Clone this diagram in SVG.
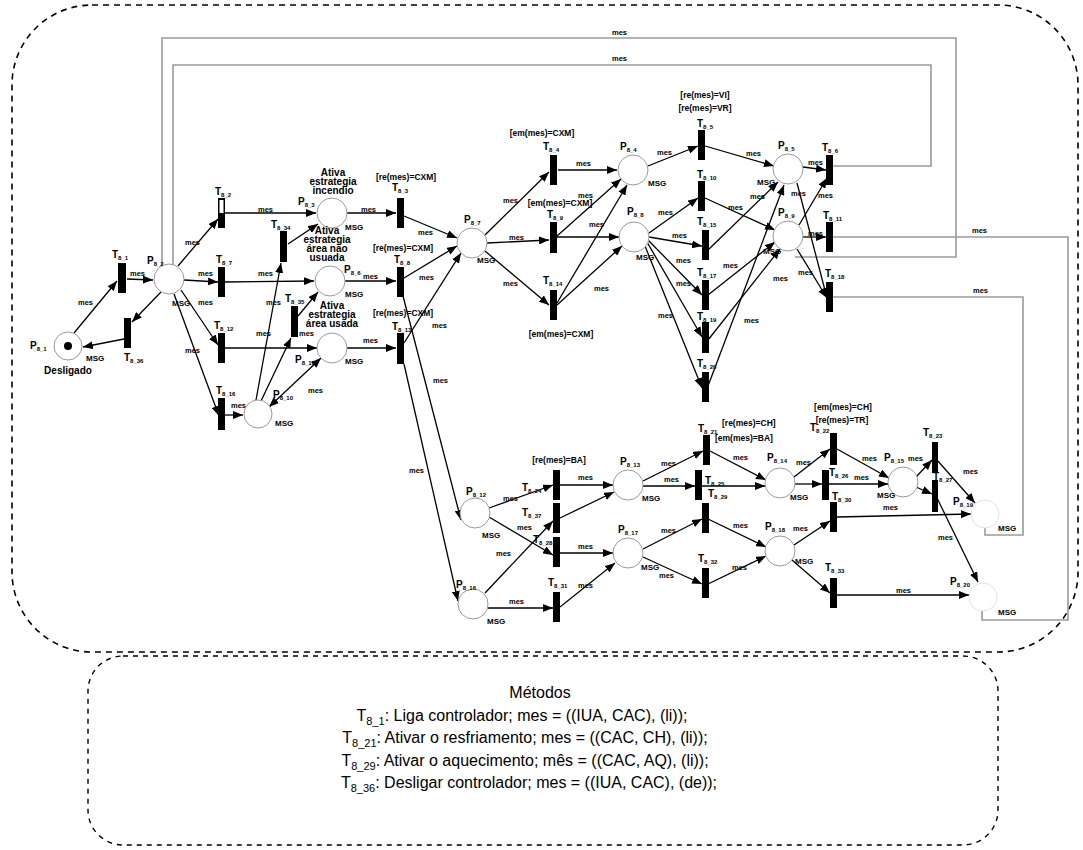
<svg xmlns="http://www.w3.org/2000/svg" width="1083" height="850" viewBox="0 0 1083 850">
<defs>
<marker id="ah" viewBox="0 0 10 8" refX="10" refY="4" markerWidth="10" markerHeight="8" markerUnits="userSpaceOnUse" orient="auto-start-reverse"><path d="M0,0 L10,4 L0,8 z" fill="#000"/></marker>
</defs>
<style>
.arc{stroke:#000;stroke-width:1.3;fill:none;marker-end:url(#ah)}
.dbl{marker-start:url(#ah)}
.loop{stroke:#9a9a9a;stroke-width:1.6;fill:none}
.pl{fill:#fff;stroke:#9a9a9a;stroke-width:1}
.pf{fill:#fff;stroke:#e2e2e2;stroke-width:1}
.tr{fill:#000}
.t{font-family:"Liberation Sans",Arial,sans-serif;font-weight:bold;fill:#000}
.m{font-size:7.5px}
.g{font-size:8.5px}
.n{font-size:10px}
.s{font-size:6px}
.ms{font-size:8px}
.ti{font-size:10px;text-anchor:middle}
.c{text-anchor:middle}
.meth{font-family:"Liberation Sans",Arial,sans-serif;font-size:16px;fill:#000;text-anchor:middle}
.sb{font-size:11px}
.bd{fill:none;stroke:#000;stroke-width:1.6;stroke-dasharray:6 5}
.bd2{fill:none;stroke:#000;stroke-width:1.4;stroke-dasharray:5 5}
</style>
<rect width="1083" height="850" fill="#fff"/>
<rect class="bd" x="12" y="5" width="1066" height="647" rx="80" ry="80"/>
<rect class="bd2" x="88" y="656" width="910" height="189" rx="35" ry="35"/>

<g id="connectors">
<path class="loop" d="M833,166 H931 V65 H173 V265"/>
<path class="loop" d="M795,257 H956 V38 H162 V266"/>
<path class="loop" d="M833,237 H1068 V620 H982 V611"/>
<path class="loop" d="M833,297 H1023 V535 H985 V528"/>
<line class="arc" x1="74" y1="333" x2="117" y2="281"/>
<line class="arc" x1="127" y1="279" x2="153" y2="280"/>
<line class="arc" x1="161" y1="292" x2="132" y2="322"/>
<line class="arc" x1="124" y1="339" x2="83" y2="347"/>
<line class="arc" x1="178" y1="266" x2="218" y2="219"/>
<line class="arc" x1="184" y1="280" x2="218" y2="282"/>
<line class="arc" x1="181" y1="290" x2="218" y2="345"/>
<line class="arc" x1="174" y1="294" x2="219" y2="416"/>
<line class="arc" x1="225" y1="213" x2="316" y2="213"/>
<line class="arc" x1="225" y1="282" x2="314" y2="281"/>
<line class="arc" x1="225" y1="348" x2="317" y2="348"/>
<line class="arc" x1="225" y1="415" x2="243" y2="415"/>
<line class="arc" x1="256" y1="400" x2="281" y2="263"/>
<line class="arc" x1="261" y1="401" x2="291" y2="338"/>
<line class="arc" x1="288" y1="244" x2="318" y2="224"/>
<line class="arc" x1="298" y1="316" x2="318" y2="292"/>
<line class="arc dbl" x1="321" y1="358" x2="269" y2="407"/>
<line class="arc" x1="347" y1="213" x2="396" y2="213"/>
<line class="arc" x1="345" y1="281" x2="396" y2="281"/>
<line class="arc" x1="347" y1="348" x2="396" y2="348"/>
<line class="arc" x1="404" y1="216" x2="457" y2="238"/>
<line class="arc" x1="404" y1="278" x2="457" y2="246"/>
<line class="arc" x1="404" y1="343" x2="461" y2="253"/>
<line class="arc" x1="403" y1="296" x2="461" y2="520"/>
<line class="arc" x1="404" y1="364" x2="458" y2="601"/>
<line class="arc" x1="485" y1="235" x2="549" y2="172"/>
<line class="arc" x1="487" y1="243" x2="549" y2="240"/>
<line class="arc" x1="485" y1="251" x2="549" y2="305"/>
<line class="arc" x1="558" y1="170" x2="617" y2="170"/>
<line class="arc" x1="557" y1="236" x2="621" y2="179"/>
<line class="arc" x1="557" y1="237" x2="619" y2="237"/>
<line class="arc" x1="557" y1="303" x2="627" y2="185"/>
<line class="arc" x1="557" y1="305" x2="622" y2="246"/>
<line class="arc" x1="648" y1="166" x2="698" y2="146"/>
<line class="arc" x1="705" y1="146" x2="774" y2="166"/>
<line class="arc" x1="649" y1="233" x2="698" y2="198"/>
<line class="arc" x1="649" y1="237" x2="702" y2="246"/>
<line class="arc" x1="648" y1="240" x2="702" y2="295"/>
<line class="arc" x1="647" y1="242" x2="702" y2="337"/>
<line class="arc" x1="645" y1="246" x2="702" y2="388"/>
<line class="arc" x1="705" y1="198" x2="775" y2="230"/>
<line class="arc" x1="708" y1="250" x2="778" y2="182"/>
<line class="arc" x1="708" y1="295" x2="775" y2="242"/>
<line class="arc" x1="708" y1="340" x2="780" y2="249"/>
<line class="arc" x1="708" y1="386" x2="784" y2="185"/>
<line class="arc" x1="803" y1="167" x2="826" y2="170"/>
<line class="arc" x1="799" y1="225" x2="827" y2="178"/>
<line class="arc" x1="803" y1="237" x2="826" y2="237"/>
<line class="arc" x1="797" y1="183" x2="827" y2="298"/>
<line class="arc" x1="797" y1="249" x2="827" y2="298"/>
<line class="arc" x1="489" y1="508" x2="553" y2="485"/>
<line class="arc" x1="489" y1="517" x2="553" y2="555"/>
<line class="arc" x1="485" y1="593" x2="553" y2="521"/>
<line class="arc" x1="488" y1="608" x2="553" y2="608"/>
<line class="arc" x1="560" y1="485" x2="613" y2="485"/>
<line class="arc" x1="560" y1="518" x2="614" y2="492"/>
<line class="arc" x1="560" y1="553" x2="613" y2="553"/>
<line class="arc" x1="560" y1="607" x2="615" y2="563"/>
<line class="arc" x1="643" y1="481" x2="703" y2="451"/>
<line class="arc" x1="643" y1="486" x2="695" y2="486"/>
<line class="arc" x1="643" y1="549" x2="702" y2="519"/>
<line class="arc" x1="643" y1="557" x2="702" y2="584"/>
<line class="arc" x1="710" y1="451" x2="766" y2="480"/>
<line class="arc" x1="702" y1="486" x2="765" y2="486"/>
<line class="arc" x1="708" y1="519" x2="766" y2="547"/>
<line class="arc" x1="708" y1="584" x2="766" y2="556"/>
<line class="arc" x1="794" y1="477" x2="830" y2="449"/>
<line class="arc" x1="795" y1="484" x2="822" y2="484"/>
<line class="arc" x1="794" y1="545" x2="830" y2="521"/>
<line class="arc" x1="792" y1="560" x2="830" y2="593"/>
<line class="arc" x1="837" y1="449" x2="889" y2="478"/>
<line class="arc" x1="828" y1="484" x2="888" y2="484"/>
<line class="arc" x1="837" y1="517" x2="971" y2="514"/>
<line class="arc" x1="837" y1="595" x2="969" y2="595"/>
<line class="arc" x1="916" y1="477" x2="932" y2="460"/>
<line class="arc" x1="916" y1="487" x2="932" y2="494"/>
<line class="arc" x1="937" y1="460" x2="975" y2="503"/>
<line class="arc" x1="937" y1="498" x2="978" y2="582"/>
<g class="t m">
<text x="612" y="35">mes</text><text x="612" y="61">mes</text>
<text x="972" y="233">mes</text><text x="973" y="293">mes</text>
<text x="78" y="305">mes</text><text x="130" y="276">mes</text>
<text x="198" y="276">mes</text><text x="198" y="305">mes</text>
<text x="185" y="353">mes</text><text x="185" y="245">mes</text>
<text x="258" y="212">mes</text><text x="258" y="276">mes</text>
<text x="266" y="305">mes</text><text x="256" y="336">mes</text>
<text x="299" y="336">mes</text><text x="231" y="408">mes</text>
<text x="308" y="393">mes</text><text x="361" y="212">mes</text>
<text x="363" y="279">mes</text><text x="363" y="343">mes</text>
<text x="418" y="235">mes</text><text x="419" y="280">mes</text>
<text x="432" y="328">mes</text><text x="433" y="383">mes</text>
<text x="409" y="473">mes</text><text x="503" y="203">mes</text>
<text x="509" y="240">mes</text><text x="503" y="286">mes</text>
<text x="576" y="166">mes</text><text x="578" y="198">mes</text>
<text x="589" y="227">mes</text><text x="594" y="291">mes</text>
<text x="657" y="155">mes</text><text x="746" y="156">mes</text>
<text x="658" y="215">mes</text><text x="672" y="238">mes</text>
<text x="676" y="263">mes</text><text x="676" y="286">mes</text>
<text x="658" y="318">mes</text><text x="728" y="210">mes</text>
<text x="750" y="199">mes</text><text x="723" y="268">mes</text>
<text x="773" y="281">mes</text><text x="744" y="323">mes</text>
<text x="808" y="165">mes</text><text x="791" y="196">mes</text>
<text x="818" y="198">mes</text><text x="808" y="236">mes</text>
<text x="798" y="275">mes</text>
<text x="503" y="501">mes</text><text x="517" y="530">mes</text>
<text x="496" y="556">mes</text><text x="509" y="604">mes</text>
<text x="578" y="480">mes</text><text x="578" y="549">mes</text>
<text x="578" y="588">mes</text><text x="661" y="466">mes</text>
<text x="664" y="482">mes</text><text x="661" y="533">mes</text>
<text x="659" y="578">mes</text><text x="733" y="460">mes</text>
<text x="733" y="528">mes</text><text x="732" y="570">mes</text>
<text x="796" y="465">mes</text><text x="793" y="531">mes</text>
<text x="862" y="461">mes</text><text x="854" y="480">mes</text>
<text x="883" y="510">mes</text><text x="896" y="593">mes</text>
<text x="908" y="461">mes</text><text x="963" y="474">mes</text>
<text x="938" y="540">mes</text>
</g>
</g>

<g id="P8_1"><circle class="pl" cx="68" cy="346" r="14" stroke="#777"/><circle cx="68" cy="346" r="4" fill="#000"/><text class="t n" x="30" y="349">P<tspan class="s" dy="2">8_1</tspan></text><text class="t ms" x="86" y="361">MSG</text><text class="t ti" x="68" y="374">Desligado</text></g>
<g id="P8_2"><circle class="pl" cx="169" cy="279" r="15"/><text class="t n" x="147" y="264">P<tspan class="s" dy="2">8_2</tspan></text><text class="t ms" x="172" y="306">MSG</text></g>
<g id="P8_3"><circle class="pl" cx="332" cy="213" r="15"/><text class="t n" x="298" y="205">P<tspan class="s" dy="2">8_3</tspan></text><text class="t ms" x="345" y="230">MSG</text><text class="t ti" x="333" y="176">Ativa</text><text class="t ti" x="333" y="185">estrategia</text><text class="t ti" x="333" y="194">incendio</text></g>
<g id="P8_6"><circle class="pl" cx="330" cy="281" r="15"/><text class="t n" x="344" y="273">P<tspan class="s" dy="2">8_6</tspan></text><text class="t ms" x="345" y="297">MSG</text><text class="t ti" x="327" y="234">Ativa</text><text class="t ti" x="327" y="243">estrategia</text><text class="t ti" x="327" y="252">área não</text><text class="t ti" x="327" y="261">usuada</text></g>
<g id="P8_11"><circle class="pl" cx="332" cy="348" r="15"/><text class="t n" x="295" y="363">P<tspan class="s" dy="2">8_11</tspan></text><text class="t ms" x="345" y="364">MSG</text><text class="t ti" x="332" y="309">Ativa</text><text class="t ti" x="332" y="318">estrategia</text><text class="t ti" x="332" y="327">área usada</text></g>
<g id="P8_10"><circle class="pl" cx="258" cy="414" r="14"/><text class="t n" x="273" y="398">P<tspan class="s" dy="2">8_10</tspan></text><text class="t ms" x="275" y="426">MSG</text></g>
<g id="P8_7"><circle class="pl" cx="472" cy="243" r="15"/><text class="t n" x="464" y="223">P<tspan class="s" dy="2">8_7</tspan></text><text class="t ms" x="477" y="263">MSG</text></g>
<g id="P8_4"><circle class="pl" cx="633" cy="170" r="15"/><text class="t n" x="620" y="150">P<tspan class="s" dy="2">8_4</tspan></text><text class="t ms" x="648" y="186">MSG</text></g>
<g id="P8_8"><circle class="pl" cx="634" cy="237" r="15"/><text class="t n" x="627" y="215">P<tspan class="s" dy="2">8_8</tspan></text><text class="t ms" x="636" y="260">MSG</text></g>
<g id="P8_5"><circle class="pl" cx="788" cy="169" r="15"/><text class="t n" x="778" y="149">P<tspan class="s" dy="2">8_5</tspan></text><text class="t ms" x="757" y="185">MSG</text></g>
<g id="P8_9"><circle class="pl" cx="788" cy="236" r="15"/><text class="t n" x="778" y="216">P<tspan class="s" dy="2">8_9</tspan></text><text class="t ms" x="763" y="254">MSG</text></g>
<g id="P8_12"><circle class="pl" cx="475" cy="513" r="15"/><text class="t n" x="466" y="495">P<tspan class="s" dy="2">8_12</tspan></text><text class="t ms" x="482" y="538">MSG</text></g>
<g id="P8_16"><circle class="pl" cx="473" cy="604" r="15"/><text class="t n" x="456" y="588">P<tspan class="s" dy="2">8_16</tspan></text><text class="t ms" x="487" y="624">MSG</text></g>
<g id="P8_13"><circle class="pl" cx="628" cy="485" r="15"/><text class="t n" x="620" y="465">P<tspan class="s" dy="2">8_13</tspan></text><text class="t ms" x="642" y="501">MSG</text></g>
<g id="P8_17"><circle class="pl" cx="628" cy="553" r="15"/><text class="t n" x="618" y="533">P<tspan class="s" dy="2">8_17</tspan></text><text class="t ms" x="641" y="570">MSG</text></g>
<g id="P8_14"><circle class="pl" cx="780" cy="483" r="15"/><text class="t n" x="767" y="461">P<tspan class="s" dy="2">8_14</tspan></text><text class="t ms" x="790" y="500">MSG</text></g>
<g id="P8_18"><circle class="pl" cx="780" cy="551" r="15"/><text class="t n" x="765" y="530">P<tspan class="s" dy="2">8_18</tspan></text><text class="t ms" x="795" y="564">MSG</text></g>
<g id="P8_15"><circle class="pl" cx="903" cy="482" r="15" stroke="#ccc"/><text class="t n" x="884" y="461">P<tspan class="s" dy="2">8_15</tspan></text><text class="t ms" x="877" y="498">MSG</text></g>
<g id="P8_19"><circle class="pf" cx="985" cy="514" r="14"/><text class="t n" x="953" y="505">P<tspan class="s" dy="2">8_19</tspan></text><text class="t ms" x="998" y="531">MSG</text></g>
<g id="P8_20"><circle class="pf" cx="983" cy="597" r="14"/><text class="t n" x="950" y="585">P<tspan class="s" dy="2">8_20</tspan></text><text class="t ms" x="998" y="615">MSG</text></g>

<g id="T8_1"><rect class="tr" x="118" y="263" width="8" height="30"/><text class="t n" x="112" y="258">T<tspan class="s" dy="2">8_1</tspan></text></g>
<g id="T8_36"><rect class="tr" x="124" y="318" width="7" height="30"/><text class="t n" x="124" y="361">T<tspan class="s" dy="2">8_36</tspan></text></g>
<g id="T8_2"><rect class="tr" x="218" y="198" width="7" height="30"/><rect x="219.5" y="200" width="4" height="13" fill="#fff"/><text class="t n" x="215" y="195">T<tspan class="s" dy="2">8_2</tspan></text></g>
<g id="T8_7"><rect class="tr" x="218" y="267" width="7" height="30"/><text class="t n" x="216" y="263">T<tspan class="s" dy="2">8_7</tspan></text></g>
<g id="T8_12"><rect class="tr" x="218" y="333" width="7" height="30"/><text class="t n" x="214" y="329">T<tspan class="s" dy="2">8_12</tspan></text></g>
<g id="T8_16"><rect class="tr" x="218" y="398" width="7" height="32"/><text class="t n" x="216" y="394">T<tspan class="s" dy="2">8_16</tspan></text></g>
<g id="T8_34"><rect class="tr" x="280" y="231" width="7" height="31"/><text class="t n" x="271" y="228">T<tspan class="s" dy="2">8_34</tspan></text></g>
<g id="T8_35"><rect class="tr" x="291" y="306" width="7" height="31"/><text class="t n" x="285" y="302">T<tspan class="s" dy="2">8_35</tspan></text></g>
<g id="T8_3"><rect class="tr" x="397" y="198" width="7" height="30"/><text class="t n" x="392" y="191">T<tspan class="s" dy="2">8_3</tspan></text><text class="t g c" x="406" y="180">[re(mes)=CXM]</text></g>
<g id="T8_8"><rect class="tr" x="397" y="267" width="7" height="30"/><text class="t n" x="394" y="263">T<tspan class="s" dy="2">8_8</tspan></text><text class="t g c" x="403" y="251">[re(mes)=CXM]</text></g>
<g id="T8_13"><rect class="tr" x="397" y="333" width="7" height="31"/><text class="t n" x="392" y="330">T<tspan class="s" dy="2">8_13</tspan></text><text class="t g c" x="403" y="316">[re(mes)=CXM]</text></g>
<g id="T8_4"><rect class="tr" x="550" y="155" width="7" height="30"/><text class="t n" x="543" y="150">T<tspan class="s" dy="2">8_4</tspan></text><text class="t g c" x="542" y="136">[em(mes)=CXM]</text></g>
<g id="T8_9"><rect class="tr" x="550" y="222" width="7" height="31"/><text class="t n" x="547" y="218">T<tspan class="s" dy="2">8_9</tspan></text><text class="t g c" x="560" y="206">[em(mes)=CXM]</text></g>
<g id="T8_14"><rect class="tr" x="550" y="290" width="7" height="30"/><text class="t n" x="543" y="284">T<tspan class="s" dy="2">8_14</tspan></text><text class="t g c" x="561" y="337">[em(mes)=CXM]</text></g>
<g id="T8_5"><rect class="tr" x="698" y="130" width="7" height="30"/><text class="t n" x="697" y="127">T<tspan class="s" dy="2">8_5</tspan></text><text class="t g c" x="705" y="98">[re(mes)=VI]</text><text class="t g c" x="705" y="111">[re(mes)=VR]</text></g>
<g id="T8_10"><rect class="tr" x="698" y="181" width="7" height="30"/><text class="t n" x="697" y="178">T<tspan class="s" dy="2">8_10</tspan></text></g>
<g id="T8_15"><rect class="tr" x="702" y="230" width="7" height="30"/><text class="t n" x="697" y="225">T<tspan class="s" dy="2">8_15</tspan></text></g>
<g id="T8_17"><rect class="tr" x="702" y="280" width="7" height="30"/><text class="t n" x="697" y="276">T<tspan class="s" dy="2">8_17</tspan></text></g>
<g id="T8_19"><rect class="tr" x="702" y="322" width="7" height="31"/><text class="t n" x="697" y="320">T<tspan class="s" dy="2">8_19</tspan></text></g>
<g id="T8_20"><rect class="tr" x="702" y="372" width="7" height="30"/><text class="t n" x="697" y="367">T<tspan class="s" dy="2">8_20</tspan></text></g>
<g id="T8_6"><rect class="tr" x="826" y="155" width="7" height="30"/><text class="t n" x="822" y="151">T<tspan class="s" dy="2">8_6</tspan></text></g>
<g id="T8_11"><rect class="tr" x="826" y="222" width="7" height="30"/><text class="t n" x="823" y="219">T<tspan class="s" dy="2">8_11</tspan></text></g>
<g id="T8_18"><rect class="tr" x="826" y="282" width="7" height="30"/><text class="t n" x="825" y="277">T<tspan class="s" dy="2">8_18</tspan></text></g>
<g id="T8_24"><rect class="tr" x="553" y="470" width="7" height="30"/><text class="t n" x="522" y="491">T<tspan class="s" dy="2">8_24</tspan></text><text class="t g c" x="559" y="463">[re(mes)=BA]</text></g>
<g id="T8_37"><rect class="tr" x="553" y="503" width="7" height="30"/><text class="t n" x="522" y="516">T<tspan class="s" dy="2">8_37</tspan></text></g>
<g id="T8_28"><rect class="tr" x="553" y="537" width="7" height="30"/><text class="t n" x="533" y="543">T<tspan class="s" dy="2">8_28</tspan></text></g>
<g id="T8_31"><rect class="tr" x="553" y="592" width="7" height="30"/><text class="t n" x="548" y="586">T<tspan class="s" dy="2">8_31</tspan></text></g>
<g id="T8_21"><rect class="tr" x="703" y="435" width="7" height="30"/><text class="t n" x="698" y="432">T<tspan class="s" dy="2">8_21</tspan></text><text class="t g" x="722" y="426">[re(mes)=CH]</text><text class="t g" x="715" y="441">[em(mes)=BA]</text></g>
<g id="T8_25"><rect class="tr" x="695" y="470" width="7" height="30"/><text class="t n" x="705" y="484">T<tspan class="s" dy="2">8_25</tspan></text></g>
<g id="T8_29"><rect class="tr" x="702" y="503" width="7" height="30"/><text class="t n" x="708" y="497">T<tspan class="s" dy="2">8_29</tspan></text></g>
<g id="T8_32"><rect class="tr" x="702" y="568" width="7" height="30"/><text class="t n" x="698" y="562">T<tspan class="s" dy="2">8_32</tspan></text></g>
<g id="T8_22"><rect class="tr" x="830" y="433" width="7" height="32"/><text class="t n" x="810" y="431">T<tspan class="s" dy="2">8_22</tspan></text><text class="t g c" x="843" y="410">[em(mes)=CH]</text><text class="t g c" x="842" y="423">[re(mes)=TR]</text></g>
<g id="T8_26"><rect class="tr" x="822" y="470" width="7" height="30"/><text class="t n" x="829" y="476">T<tspan class="s" dy="2">8_26</tspan></text></g>
<g id="T8_30"><rect class="tr" x="830" y="502" width="7" height="30"/><text class="t n" x="832" y="500">T<tspan class="s" dy="2">8_30</tspan></text></g>
<g id="T8_33"><rect class="tr" x="830" y="578" width="7" height="30"/><text class="t n" x="825" y="571">T<tspan class="s" dy="2">8_33</tspan></text></g>
<g id="T8_23"><rect class="tr" x="932" y="442" width="6" height="31"/><text class="t n" x="923" y="436">T<tspan class="s" dy="2">8_23</tspan></text></g>
<g id="T8_27"><rect class="tr" x="932" y="480" width="6" height="32"/><text class="t n" x="933" y="480">T<tspan class="s" dy="2">8_27</tspan></text></g>

<g id="metodos">
<text class="meth" x="540" y="698">Métodos</text>
<text class="meth" x="522" y="721">T<tspan class="sb" dy="4">8_1</tspan><tspan dy="-4">: Liga controlador; mes = ((IUA, CAC), (li));</tspan></text>
<text class="meth" x="525" y="743">T<tspan class="sb" dy="4">8_21</tspan><tspan dy="-4">: Ativar o resfriamento; mes = ((CAC, CH), (li));</tspan></text>
<text class="meth" x="525" y="766">T<tspan class="sb" dy="4">8_29</tspan><tspan dy="-4">: Ativar o aquecimento; mês = ((CAC, AQ), (li));</tspan></text>
<text class="meth" x="529" y="788">T<tspan class="sb" dy="4">8_36</tspan><tspan dy="-4">: Desligar controlador; mes = ((IUA, CAC), (de));</tspan></text>
</g>
</svg>
